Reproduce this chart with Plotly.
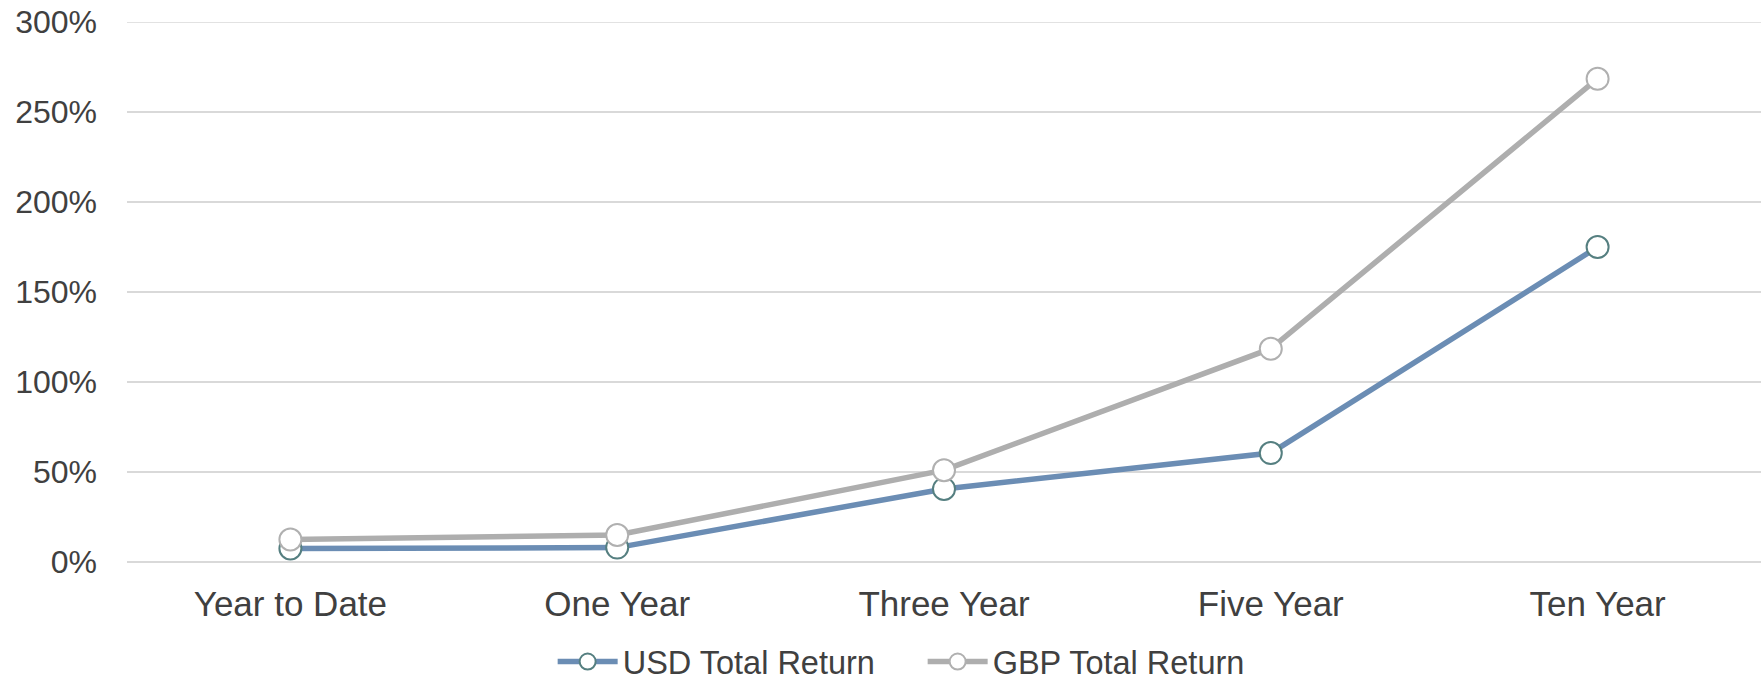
import plotly.graph_objects as go

categories = ["Year to Date", "One Year", "Three Year", "Five Year", "Ten Year"]
usd_total_return = [7.5, 8.0, 40.6, 60.5, 175.0]
gbp_total_return = [12.5, 15.0, 51.0, 118.5, 268.5]
y_ticks = [0, 50, 100, 150, 200, 250, 300]
y_tick_labels = ["0%", "50%", "100%", "150%", "200%", "250%", "300%"]

FONT = "Liberation Sans, Arial, sans-serif"
TEXT = "#404040"

fig = go.Figure()
fig.add_trace(go.Scatter(
    x=categories, y=usd_total_return, name="USD Total Return",
    mode="lines+markers",
    line=dict(color="#6b8db4", width=5.5),
    marker=dict(size=22, color="white", line=dict(color="#557f80", width=2)),
))
fig.add_trace(go.Scatter(
    x=categories, y=gbp_total_return, name="GBP Total Return",
    mode="lines+markers",
    line=dict(color="#aeaeae", width=5.5),
    marker=dict(size=22, color="white", line=dict(color="#b0b0b0", width=2)),
))

fig.update_layout(
    width=1763, height=680,
    margin=dict(l=127, r=2, t=22, b=118, autoexpand=False),
    paper_bgcolor="white", plot_bgcolor="white",
    font=dict(family=FONT, size=32, color=TEXT),
    showlegend=True,
    legend=dict(orientation="h", x=0.2605, xanchor="left", y=-0.185, yanchor="middle",
                font=dict(size=32.5, color=TEXT), itemwidth=60, tracegroupgap=0,
                entrywidth=295, entrywidthmode="pixels",
                bgcolor="rgba(0,0,0,0)"),
)
fig.update_xaxes(
    type="category", range=[-0.5, 4.5], showgrid=False, showline=False, zeroline=False,
    tickfont=dict(size=35, color=TEXT), ticks="", ticklabelstandoff=18, automargin=False,
)
fig.update_yaxes(
    range=[0, 300], tickvals=y_ticks, ticktext=y_tick_labels,
    showgrid=True, gridcolor="#d9d9d9", gridwidth=1.5,
    zeroline=True, zerolinecolor="#d9d9d9", zerolinewidth=1.5,
    showline=False, ticks="", tickfont=dict(size=32, color=TEXT), ticklabelstandoff=29,
    ticklabeloverflow="allow", automargin=False,
)
fig.add_shape(type="line", xref="paper", yref="y", x0=0, x1=1, y0=300, y1=300,
              line=dict(color="#d9d9d9", width=1.5), layer="below")

fig.write_html("out.html", config={"displayModeBar": False},
               post_script="document.body.style.margin='0';")
